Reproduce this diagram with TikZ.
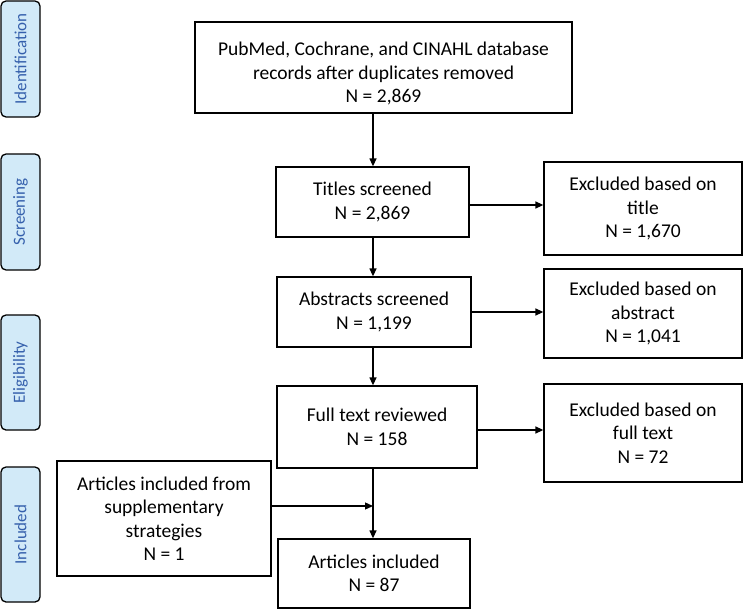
\documentclass[tikz,border=0pt]{standalone}
\usepackage{fontspec}
\setmainfont{Carlito}
\usetikzlibrary{arrows.meta}
\definecolor{sidefill}{HTML}{D2EAF8}
\definecolor{sidetext}{HTML}{3560AC}
\tikzset{
  box/.style={draw=black, line width=1.3pt, fill=white, align=center, inner sep=2pt,
    font=\fontsize{19.5}{23.5}\selectfont},
  side/.style={draw=black, line width=1.3pt, fill=sidefill, rounded corners=5pt,
    minimum width=39pt, text=sidetext, font=\fontsize{17}{20}\selectfont, inner sep=0pt},
  arr/.style={line width=1.3pt, -{Triangle[length=8pt,width=7pt]}},
  ln/.style={line width=1.3pt}
}
\begin{document}
\begin{tikzpicture}[x=1pt,y=-1pt]
\useasboundingbox (0,0) rectangle (744,610);
% side labels
\node[side, minimum height=116pt] (sid) at (20.5,59) {\rotatebox{90}{Identification}};
\node[side, minimum height=116pt] (sscr) at (20.5,212) {\rotatebox{90}{Screening}};
\node[side, minimum height=115pt] (selig) at (20.5,372.5) {\rotatebox{90}{Eligibility}};
\node[side, minimum height=135pt] (sinc) at (20.5,534.5) {\rotatebox{90}{Included}};
% boxes
\node[box, minimum width=377pt, minimum height=91pt] (top) at (383.5,67.5)
  {\rule{0pt}{26pt}PubMed, Cochrane, and CINAHL database\\records after duplicates removed\\N = 2,869};
\node[box, minimum width=193pt, minimum height=70pt] (titles) at (372.5,202)
  {Titles screened\\N = 2,869};
\node[box, minimum width=194pt, minimum height=70pt] (abs) at (374,312)
  {Abstracts screened\\N = 1,199};
\node[box, minimum width=200pt, minimum height=82pt] (full) at (377,427)
  {Full text reviewed\\N = 158};
\node[box, minimum width=192pt, minimum height=69pt] (arts) at (374,573.5)
  {Articles included\\N = 87};
\node[box, minimum width=198pt, minimum height=93pt] (ex1) at (643,208.5)
  {Excluded based on\\title\\N = 1,670};
\node[box, minimum width=198pt, minimum height=89pt] (ex2) at (643,313.5)
  {Excluded based on\\abstract\\N = 1,041};
\node[box, minimum width=198pt, minimum height=98pt] (ex3) at (643,433)
  {Excluded based on\\full text\\N = 72};
\node[box, minimum width=214pt, minimum height=115pt] (supp) at (164,518.5)
  {Articles included from\\supplementary\\strategies\\N = 1};
% connectors
\coordinate (col) at (373,0);
\coordinate (join) at (373,506);
\draw[arr] (top.south -| col) -- (titles.north -| col);
\draw[arr] (titles.south -| col) -- (abs.north -| col);
\draw[arr] (abs.south -| col) -- (full.north -| col);
\draw[arr] (full.south -| col) -- (arts.north -| col);
\draw[arr] (join -| supp.east) -- (join);
\draw[arr] ([yshift=-3pt]titles.east) -- ([yshift=-3pt]titles.east -| ex1.west);
\draw[arr] (abs.east) -- (abs.east -| ex2.west);
\draw[arr] ([yshift=-3pt]full.east) -- ([yshift=-3pt]full.east -| ex3.west);
\end{tikzpicture}
\end{document}
